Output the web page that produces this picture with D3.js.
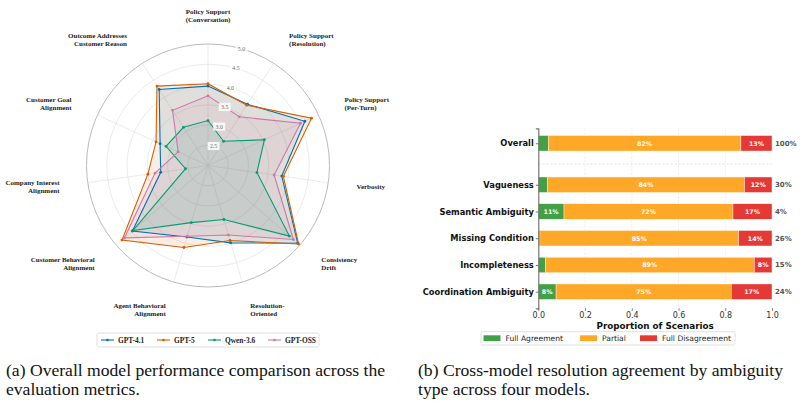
<!DOCTYPE html>
<meta charset="utf-8">
<head>
    <script src="https://d3js.org/d3.v7.min.js"></script>
    <style>
    body { margin: 0; background: white; }
    svg { display: block; background: white; }
    .serif { font-family: "Liberation Serif", "Times New Roman", serif; }
    .sans { font-family: "DejaVu Sans", sans-serif; }
    </style>
</head>
<body>
<svg id="svgid" width="806" height="405"></svg>
<script>
    // ---- radar data ----
    var metrics = [
        ["Policy Support", "(Conversation)"],
        ["Policy Support", "(Resolution)"],
        ["Policy Support", "(Per-Turn)"],
        ["Verbosity"],
        ["Consistency", "Drift"],
        ["Resolution-", "Oriented"],
        ["Agent Behavioral", "Alignment"],
        ["Customer Behavioral", "Alignment"],
        ["Company Interest", "Alignment"],
        ["Customer Goal", "Alignment"],
        ["Outcome Addresses", "Customer Reason"]
    ];
    var models = ["GPT-4.1", "GPT-5", "Qwen-3.6", "GPT-OSS"];
    var gpt41 = [3.96, 3.80, 4.63, 3.84, 4.93, 3.99, 3.84, 4.47, 3.18, 3.30, 4.23];
    var gpt5  = [4.02, 3.77, 4.81, 3.88, 4.96, 3.93, 4.11, 4.81, 3.50, 3.41, 4.33];
    var qwen  = [3.11, 2.71, 3.53, 3.22, 4.66, 3.39, 3.47, 4.45, 2.56, 3.14, 3.12];
    var gptoss = [3.72, 3.43, 4.51, 3.65, 4.79, 3.79, 3.82, 4.73, 3.32, 2.81, 3.62];
    var radarTicks = [2.5, 3.0, 3.5, 4.0, 4.5, 5.0];
    var modelColors = ["#0072B2", "#D55E00", "#009E73", "#CC79A7"];

    // ---- bar data ----
    var ambTypes = ["Overall", "Vagueness", "Semantic Ambiguity", "Missing Condition", "Incompleteness", "Coordination Ambiguity"];
    var fullAgree = [0.043, 0.039, 0.110, 0.007, 0.030, 0.076];
    var partial   = [0.824, 0.843, 0.723, 0.850, 0.894, 0.750];
    var fullDis   = [0.133, 0.118, 0.167, 0.143, 0.076, 0.174];
    var shareLabels = ["100%", "30%", "4%", "26%", "15%", "24%"];
    var xTicks = [0, 0.2, 0.4, 0.6, 0.8, 1.0];
    var segNames = ["Full Agreement", "Partial", "Full Disagreement"];
    var segColors = ["#43a047", "#ffa726", "#e53935"];

    var svg = d3.select("#svgid");

    // ================= RADAR =================
    var cx = 208, cy = 165.5;
    var r = d3.scaleLinear().domain([2, 5]).range([0, 121.5]);
    var n = metrics.length;
    var ang = function(i) { return i * 2 * Math.PI / n; };
    var pt = function(i, v) { return [cx + r(v) * Math.sin(ang(i)), cy - r(v) * Math.cos(ang(i))]; };

    var radar = svg.append("g");

    // grid circles
    radar.selectAll("circle.grid").data(radarTicks).enter().append("circle")
        .attr("cx", cx).attr("cy", cy).attr("r", function(d) { return r(d); })
        .style("fill", "none")
        .style("stroke", function(d) { return d === 5 ? "#bbbbbb" : "#e3e3e3"; })
        .style("stroke-width", function(d) { return d === 5 ? 1 : 0.7; });

    // spokes
    radar.selectAll("line.spoke").data(metrics).enter().append("line")
        .attr("x1", cx).attr("y1", cy)
        .attr("x2", function(d, i) { return pt(i, 5)[0]; })
        .attr("y2", function(d, i) { return pt(i, 5)[1]; })
        .style("stroke", "#e3e3e3").style("stroke-width", 0.7);

    var series = [gpt41, gpt5, qwen, gptoss];
    var line = d3.line().curve(d3.curveLinearClosed);

    series.forEach(function(vals, k) {
        var pts = vals.map(function(v, i) { return pt(i, v); });
        radar.append("path").attr("d", line(pts))
            .style("fill", modelColors[k]).style("fill-opacity", 0.11).style("stroke", "none");
    });
    series.forEach(function(vals, k) {
        var pts = vals.map(function(v, i) { return pt(i, v); });
        radar.append("path").attr("d", line(pts))
            .style("fill", "none").style("stroke", modelColors[k]).style("stroke-width", 1.1);
        radar.selectAll(null).data(pts).enter().append("circle")
            .attr("cx", function(d) { return d[0]; }).attr("cy", function(d) { return d[1]; })
            .attr("r", 1.4).style("fill", modelColors[k]);
    });

    // radial tick labels
    var tickAng = 16 * Math.PI / 180;
    radarTicks.forEach(function(t) {
        var x = cx + r(t) * Math.sin(tickAng), y = cy - r(t) * Math.cos(tickAng);
        var g = radar.append("g");
        g.append("rect").attr("x", x - 6).attr("y", y - 4).attr("width", 12).attr("height", 8)
            .style("fill", "white").style("fill-opacity", 0.85);
        g.append("text").attr("class", "serif").attr("x", x).attr("y", y + 2)
            .attr("text-anchor", "middle").style("font-size", "5.8px").style("fill", "#666")
            .text(t.toFixed(1));
    });

    // metric labels
    metrics.forEach(function(lines, i) {
        var a = ang(i), s = Math.sin(a);
        var x = cx + 150 * s, y = cy - 150 * Math.cos(a);
        var anchor = Math.abs(s) < 0.05 ? "middle" : (s > 0 ? "start" : "end");
        var lh = 7.9;
        var y0 = y - (lines.length - 1) * lh / 2 + 2.4;
        lines.forEach(function(l, j) {
            radar.append("text").attr("class", "serif")
                .attr("text-anchor", anchor)
                .attr("x", x).attr("y", y0 + j * lh)
                .style("font-size", "7px").style("font-weight", "bold").style("fill", "#222")
                .text(l);
        });
    });

    // radar legend
    var leg = radar.append("g");
    leg.append("rect").attr("x", 97).attr("y", 333).attr("width", 222).attr("height", 14)
        .attr("rx", 1.5).style("fill", "white").style("stroke", "#d8d8d8").style("stroke-width", 0.8);
    var legX = [101, 157, 208, 268];
    models.forEach(function(m, k) {
        var x = legX[k], y = 340;
        leg.append("line").attr("x1", x).attr("x2", x + 13).attr("y1", y).attr("y2", y)
            .style("stroke", modelColors[k]).style("stroke-width", 1.1);
        leg.append("circle").attr("cx", x + 6.5).attr("cy", y).attr("r", 1.3).style("fill", modelColors[k]);
        leg.append("text").attr("class", "serif").attr("x", x + 17).attr("y", y + 2.5)
            .style("font-size", "7.4px").style("font-weight", "bold").style("fill", "#222").text(m);
    });

    // ================= STACKED BARS =================
    var pos = ambTypes.map(function(d, i) { return i === 0 ? 0 : i + 0.55; });
    var x = d3.scaleLinear().domain([0, 1]).range([538.3, 772]);
    var y = d3.scaleLinear().domain([-0.56, 6.17]).range([128.3, 308.3]);
    var bh = 15.5;

    var bars = svg.append("g").attr("class", "sans");

    // vertical dashed grid
    bars.selectAll("line.vg").data(xTicks.slice(1, 5)).enter().append("line")
        .attr("x1", function(d) { return x(d); }).attr("x2", function(d) { return x(d); })
        .attr("y1", y.range()[0]).attr("y2", y.range()[1])
        .style("stroke", "#e6e6e6").style("stroke-width", 0.7).style("stroke-dasharray", "2.5,1.5");

    // separator
    bars.append("line").attr("x1", x(0)).attr("x2", x(1))
        .attr("y1", y(0.775)).attr("y2", y(0.775))
        .style("stroke", "#dddddd").style("stroke-width", 0.8).style("stroke-dasharray", "2.5,1.5");

    var segs = [fullAgree, partial, fullDis];
    ambTypes.forEach(function(cat, i) {
        var acc = 0;
        segs.forEach(function(arr, s) {
            var v = arr[i];
            bars.append("rect").attr("x", x(acc)).attr("y", y(pos[i]) - bh / 2)
                .attr("width", x(acc + v) - x(acc)).attr("height", bh)
                .style("fill", segColors[s]).style("stroke", "white").style("stroke-width", 0.4);
            if (v >= 0.06) {
                bars.append("text").attr("x", x(acc + v / 2)).attr("y", y(pos[i]) + 2.3)
                    .attr("text-anchor", "middle").style("font-size", "6.3px").style("font-weight", "bold")
                    .style("fill", "white").text(Math.round(v * 100) + "%");
            }
            acc += v;
        });
        bars.append("text").attr("x", x(1) + 3).attr("y", y(pos[i]) + 2.5)
            .style("font-size", "7px").style("font-weight", "bold").style("fill", "#555")
            .text(shareLabels[i]);
    });

    // y axis
    var yAxis = d3.axisLeft(y).tickValues(pos).tickSize(2.5).tickPadding(2)
        .tickFormat(function(d, i) { return ambTypes[i]; });
    var yg = bars.append("g").attr("transform", "translate(" + x(0) + ",0)").call(yAxis);
    yg.select(".domain").style("stroke", "#777").style("stroke-width", 1.2);
    yg.selectAll(".tick line").style("stroke", "#555").style("stroke-width", 0.8);
    yg.selectAll(".tick text").style("font-family", "DejaVu Sans").style("font-size", "8.3px")
        .style("font-weight", "bold").style("fill", "#111");

    // x axis (no spine)
    var xAxis = d3.axisBottom(x).tickValues(xTicks).tickSize(2.5).tickPadding(2)
        .tickFormat(d3.format(".1f"));
    var xg = bars.append("g").attr("transform", "translate(0," + y.range()[1] + ")").call(xAxis);
    xg.select(".domain").remove();
    xg.selectAll(".tick line").style("stroke", "#555").style("stroke-width", 0.8);
    xg.selectAll(".tick text").style("font-family", "DejaVu Sans").style("font-size", "8px").style("fill", "#333");

    bars.append("text").attr("x", x(0.5)).attr("y", 328.5).attr("text-anchor", "middle")
        .style("font-size", "8.8px").style("font-weight", "bold").style("fill", "#111")
        .text("Proportion of Scenarios");

    // bar legend
    var bl = bars.append("g");
    bl.append("rect").attr("x", 481).attr("y", 331.7).attr("width", 254).attr("height", 13.3)
        .attr("rx", 1.5).style("fill", "white").style("stroke", "#d8d8d8").style("stroke-width", 0.8);
    var blX = [483.5, 580, 640];
    segNames.forEach(function(nm, s) {
        bl.append("rect").attr("x", blX[s]).attr("y", 335.3).attr("width", 17).attr("height", 5.8)
            .style("fill", segColors[s]);
        bl.append("text").attr("x", blX[s] + 22).attr("y", 341)
            .style("font-size", "7.6px").style("fill", "#222").text(nm);
    });

    // ================= CAPTIONS =================
    var cap = svg.append("g").attr("class", "serif").style("font-size", "17.6px").style("fill", "#111");
    cap.append("text").attr("x", 6).attr("y", 376).text("(a) Overall model performance comparison across the");
    cap.append("text").attr("x", 6).attr("y", 395).text("evaluation metrics.");
    cap.append("text").attr("x", 418).attr("y", 376).text("(b) Cross-model resolution agreement by ambiguity");
    cap.append("text").attr("x", 418).attr("y", 395).text("type across four models.");
</script>
</body>
